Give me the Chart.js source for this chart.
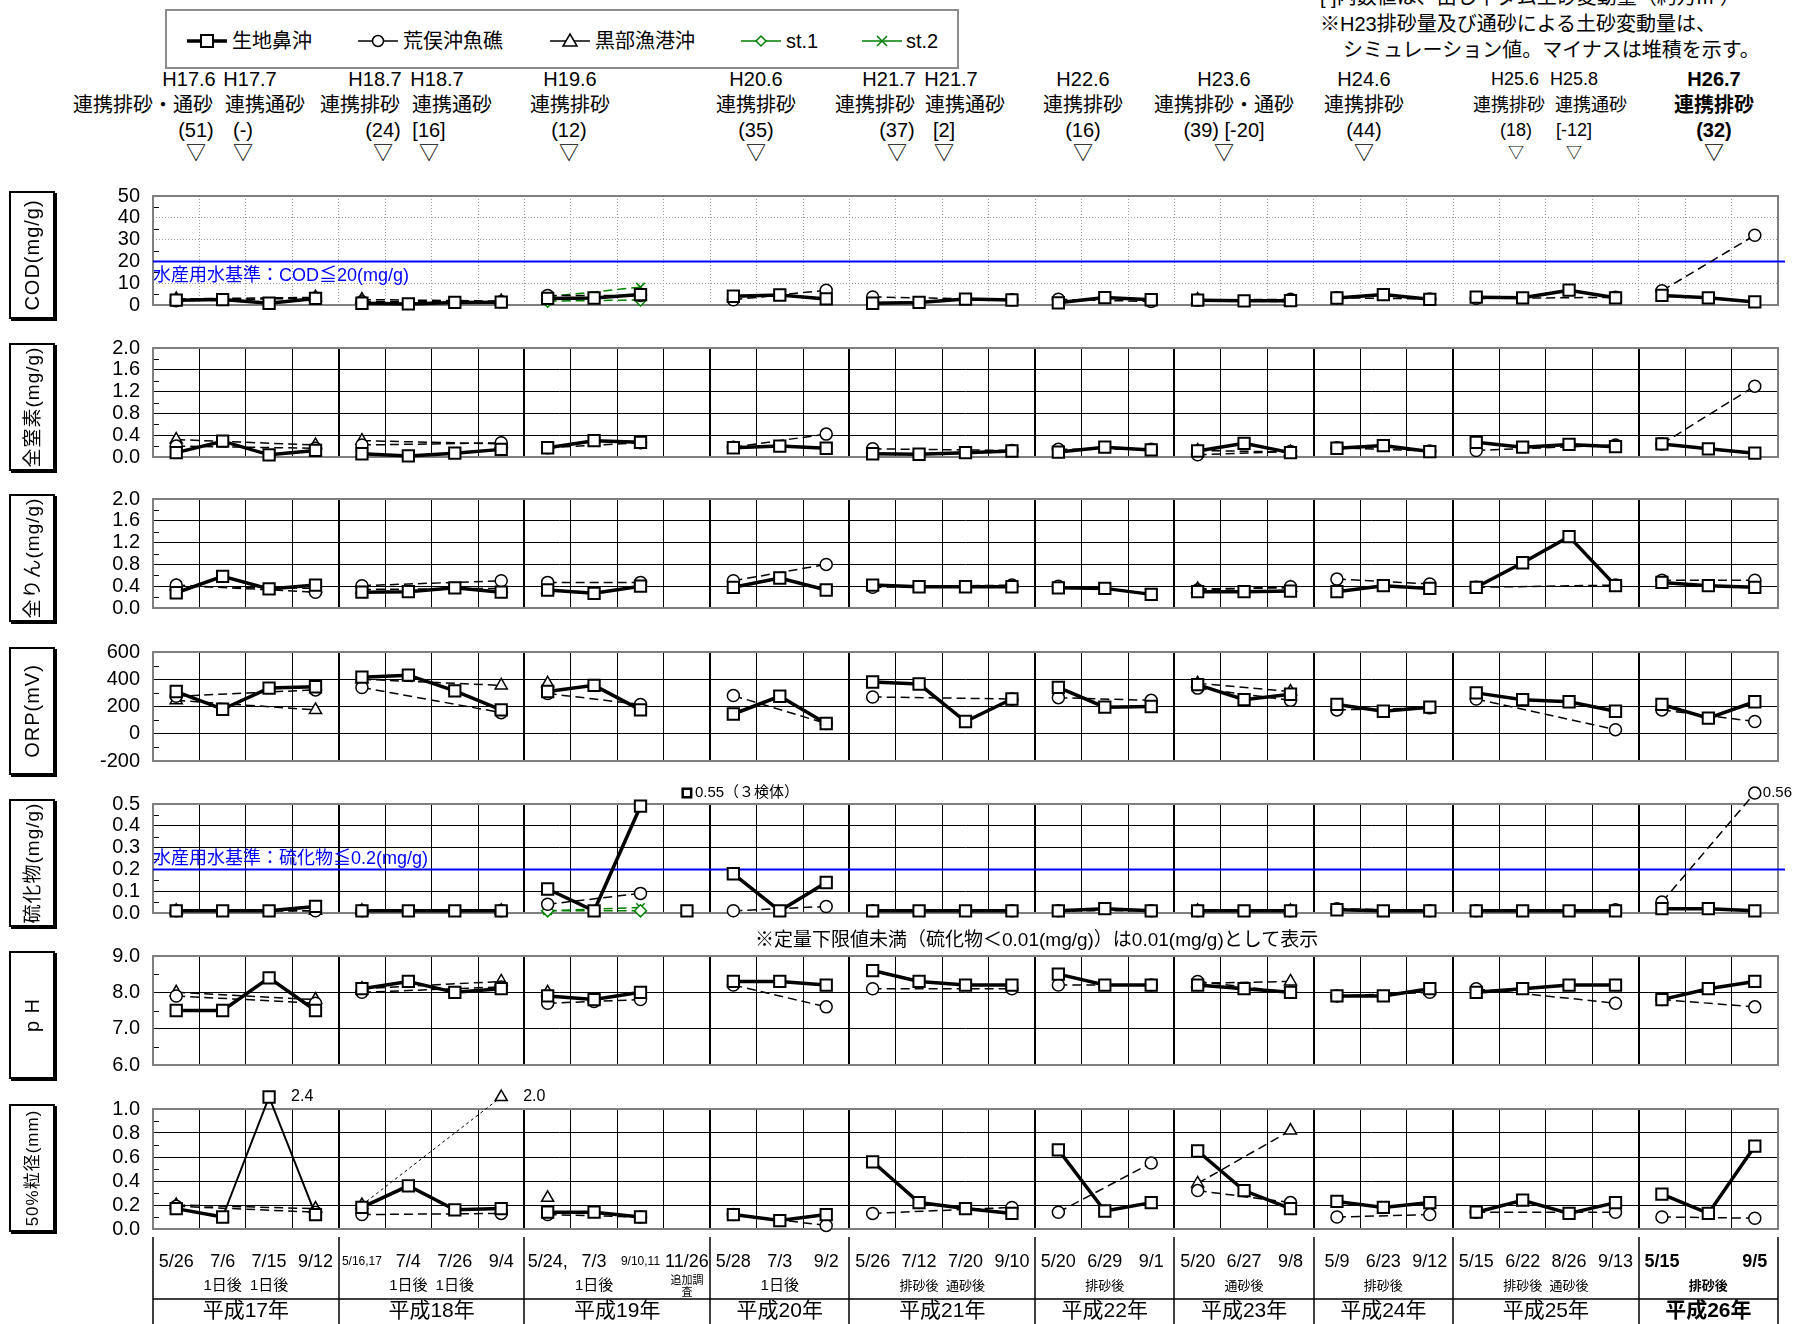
<!DOCTYPE html>
<html lang="ja">
<head>
<meta charset="utf-8">
<script src="https://cdn.jsdelivr.net/npm/chart.js@4.4.1/dist/chart.umd.min.js"></script>
<style>
  body { margin:0; width:1805px; height:1324px; overflow:hidden; position:relative; background:#fff;
         font-family:"Liberation Sans","Noto Sans CJK JP",sans-serif; color:#000; }
  .t { position:absolute; white-space:nowrap; line-height:1; transform:translate(-50%,-50%); }
  .l { position:absolute; white-space:nowrap; line-height:1; }
  canvas { position:absolute; left:0; }
  .ybox { position:absolute; left:9px; width:46px; box-sizing:border-box; border:2px solid #000; box-shadow:2px 2px 0 #000; background:#fff; }
  .ybox span { position:absolute; left:50%; top:50%; transform:translate(-50%,-50%) rotate(-90deg); white-space:nowrap; letter-spacing:1px; line-height:1; }
  #legend { position:absolute; left:165px; top:9px; width:794px; height:60px; box-sizing:border-box; border:2px solid #8c8c8c; }
</style>
</head>
<body>
<div id="legend"></div>
<script>
const _ = null;

// columns (survey dates)
const dates = ['5/26','7/6','7/15','9/12', '5/16,17','7/4','7/26','9/4', '5/24,','7/3','9/10,11','11/26',
  '5/28','7/3','9/2', '5/26','7/12','7/20','9/10', '5/20','6/29','9/1', '5/20','6/27','9/8',
  '5/9','6/23','9/12', '5/15','6/22','8/26','9/13', '5/15','','9/5'];
const subLabels = ['','1日後','1日後','', '','1日後','1日後','', '','1日後','','追加調査',
  '','1日後','', '','排砂後','通砂後','', '','排砂後','', '','通砂後','',
  '','排砂後','', '','排砂後','通砂後','', '','排砂後',''];
const yearCol = [17,17,17,17, 18,18,18,18, 19,19,19,19, 20,20,20, 21,21,21,21, 22,22,22, 23,23,23,
  24,24,24, 25,25,25,25, 26,26,26];
const lineGroup = [1,1,1,1, 2,2,2,2, 3,3,3,4, 5,5,5, 6,6,6,6, 7,7,7, 8,8,8, 9,9,9, 10,10,10,10, 11,11,11];

const names = ['生地鼻沖', '荒俣沖魚礁', '黒部漁港沖', 'st.1', 'st.2'];

// COD (mg/g)
const codSq = [2.2,2.5,0.8,3.0, 0.8,0.5,1.2,1.3, 3.0,3.2,4.8,_, 4.0,4.6,2.8, 0.8,1.2,2.7,2.3, 1.0,3.4,2.4, 2.2,1.9,2.0, 3.2,4.8,2.6, 3.6,3.3,6.8,3.3, 4.4,3.3,1.4];
const codCi = [2.0,_,_,3.2, 1.5,_,_,1.5, 4.4,_,4.4,_, 2.4,_,6.8, 3.7,_,_,2.4, 2.6,_,1.6, 2.3,_,2.6, 3.3,_,2.8, 3.0,_,_,3.5, 6.5,_,32];
const codTr = [2.8,_,_,3.5, 2.5,_,_,1.8, _,_,_,_, _,_,_, _,_,_,_, _,_,_, 2.5,_,1.5, _,_,_, _,_,_,_, _,_,_];
const codS1 = [_,_,_,_, _,_,_,_, 1.8,_,2.3,_, _,_,_, _,_,_,_, _,_,_, _,_,_, _,_,_, _,_,_,_, _,_,_];
const codS2 = [_,_,_,_, _,_,_,_, 3.8,_,8.2,_, _,_,_, _,_,_,_, _,_,_, _,_,_, _,_,_, _,_,_,_, _,_,_];

// 全窒素 (mg/g)
const tnSq = [0.08,0.29,0.04,0.12, 0.06,0.02,0.07,0.14, 0.17,0.30,0.27,_, 0.17,0.20,0.16, 0.06,0.05,0.08,0.11, 0.09,0.18,0.13, 0.11,0.25,0.08, 0.16,0.21,0.10, 0.27,0.18,0.23,0.19, 0.24,0.15,0.07];
const tnCi = [0.20,_,_,0.16, 0.22,_,_,0.26, 0.17,_,0.26,_, 0.18,_,0.42, 0.15,_,_,0.12, 0.14,_,0.14, 0.04,_,0.10, 0.17,_,0.11, 0.12,_,_,0.22, 0.24,_,1.30];
const tnTr = [0.32,_,_,0.22, 0.30,_,_,0.24, _,_,_,_, _,_,_, _,_,_,_, _,_,_, 0.12,_,0.09, _,_,_, _,_,_,_, _,_,_];

// 全りん (mg/g)
const tpSq = [0.28,0.58,0.35,0.42, 0.29,0.30,0.37,0.29, 0.33,0.27,0.40,_, 0.38,0.55,0.33, 0.42,0.39,0.39,0.39, 0.37,0.36,0.25, 0.30,0.30,0.31, 0.30,0.41,0.36, 0.38,0.83,1.31,0.41, 0.47,0.41,0.38];
const tpCi = [0.42,_,_,0.29, 0.41,_,_,0.50, 0.47,_,0.47,_, 0.50,_,0.80, 0.38,_,_,0.42, 0.40,_,_, 0.33,_,0.39, 0.53,_,0.44, 0.38,_,_,0.42, 0.51,_,0.51];
const tpTr = [0.40,_,_,0.36, 0.34,_,_,0.36, 0.34,_,_,_, _,_,_, _,_,_,_, _,_,_, 0.35,_,0.37, _,_,_, _,_,_,_, _,_,_];

// ORP (mV)
const orpSq = [310,180,335,345, 415,430,315,175, 310,355,175,_, 145,275,75, 380,365,90,255, 340,195,200, 360,250,290, 215,165,195, 300,250,235,165, 215,115,235];
const orpCi = [275,_,_,322, 340,_,_,155, 295,_,215,_, 280,_,75, 270,_,_,255, 265,_,245, 335,_,245, 175,_,190, 255,_,_,30, 175,_,90];
const orpTr = [245,_,_,175, 400,_,_,355, 370,_,_,_, _,_,_, _,_,_,_, _,_,_, 370,_,310, _,_,_, _,_,_,_, _,_,_];

// 硫化物 (mg/g)
const sulSq = [0.01,0.01,0.01,0.03, 0.01,0.01,0.01,0.01, 0.11,0.01,0.49,0.01, 0.18,0.01,0.14, 0.01,0.01,0.01,0.01, 0.01,0.02,0.01, 0.01,0.01,0.01, 0.015,0.01,0.01, 0.01,0.01,0.01,0.01, 0.02,0.02,0.01];
const sulCi = [0.01,_,_,0.01, 0.01,_,_,0.01, 0.04,_,0.09,_, 0.01,_,0.03, 0.01,_,_,0.01, 0.01,_,0.01, 0.01,_,0.01, 0.02,_,0.01, 0.01,_,_,0.015, 0.05,_,0.56];
const sulTr = [0.01,_,_,0.01, 0.01,_,_,0.01, _,_,_,_, _,_,_, _,_,_,_, _,_,_, 0.01,_,0.01, _,_,_, _,_,_,_, _,_,_];
const sulS1 = [_,_,_,_, _,_,_,_, 0.01,_,0.01,_, _,_,_, _,_,_,_, _,_,_, _,_,_, _,_,_, _,_,_,_, _,_,_];
const sulS2 = [_,_,_,_, _,_,_,_, 0.01,_,0.025,_, _,_,_, _,_,_,_, _,_,_, _,_,_, _,_,_, _,_,_,_, _,_,_];
const sulExtra = [_,_,_,_, _,_,_,_, _,_,_,0.55, _,_,_, _,_,_,_, _,_,_, _,_,_, _,_,_, _,_,_,_, _,_,_];

// pH
const phSq = [7.5,7.5,8.4,7.5, 8.1,8.3,8.0,8.1, 7.9,7.8,8.0,_, 8.3,8.3,8.2, 8.6,8.3,8.2,8.2, 8.5,8.2,8.2, 8.2,8.1,8.0, 7.9,7.9,8.1, 8.0,8.1,8.2,8.2, 7.8,8.1,8.3];
const phCi = [7.9,_,_,7.7, 8.0,_,_,8.15, 7.7,7.75,7.8,_, 8.2,_,7.6, 8.1,_,_,8.1, 8.2,_,8.2, 8.3,_,8.0, 7.9,_,8.0, 8.1,_,_,7.7, 7.8,_,7.6];
const phTr = [8.0,_,_,7.8, 8.1,_,_,8.3, 8.0,_,_,_, _,_,_, _,_,_,_, _,_,_, 8.25,_,8.3, _,_,_, _,_,_,_, _,_,_];

// 50%粒径 (mm)
const d50Sq = [0.17,0.10,2.4,0.12, 0.18,0.36,0.16,0.17, 0.14,0.14,0.10,_, 0.12,0.07,0.12, 0.56,0.22,0.17,0.13, 0.66,0.15,0.22, 0.65,0.32,0.17, 0.23,0.18,0.22, 0.14,0.24,0.13,0.22, 0.29,0.13,0.69];
const d50Ci = [0.19,_,_,0.14, 0.12,_,_,0.13, 0.12,_,0.10,_, 0.12,_,0.03, 0.13,_,_,0.18, 0.14,_,0.55, 0.32,_,0.22, 0.10,_,0.12, 0.14,_,_,0.14, 0.10,_,0.09];
const d50Tr = [0.20,_,_,0.17, 0.20,_,_,2.0, 0.26,_,_,_, _,_,_, _,_,_,_, _,_,_, 0.38,_,0.82, _,_,_, _,_,_,_, _,_,_];

const FONT = '"Liberation Sans", "Noto Sans CJK JP", sans-serif';
Chart.defaults.font.family = FONT;
Chart.defaults.color = '#000';

const styles = {
  sq: { label: names[0], point: 'rect', r: 8, pw: 2, color: '#000', width: 3.5, dash: [], overWidth: 2, overDash: [] },
  ci: { label: names[1], point: 'circle', r: 6, pw: 1.5, color: '#000', width: 1.5, dash: [9, 5], overWidth: 1.5, overDash: [9, 5] },
  tr: { label: names[2], point: 'triangle', r: 7, pw: 1.5, color: '#000', width: 1.5, dash: [9, 5], overWidth: 1, overDash: [3, 3] },
  s1: { label: names[3], point: 'rectRot', r: 6, pw: 1.5, color: '#008000', width: 1.5, dash: [9, 5], overWidth: 1.5, overDash: [9, 5] },
  s2: { label: names[4], point: 'crossRot', r: 6, pw: 1.5, color: '#008000', width: 1.5, dash: [9, 5], overWidth: 1.5, overDash: [9, 5] },
  sqx: { label: names[0], point: 'rect', r: 6, pw: 2.5, color: '#000', width: 0, dash: [], overWidth: 0, overDash: [], noLine: true }
};

const panels = [
  { id: 'cod', top: 195, min: 0, max: 50, step: 10, dec: 0, dotted: true, title: 'COD(mg/g)', tsize: 20,
    series: [['sq', codSq], ['ci', codCi], ['tr', codTr], ['s1', codS1], ['s2', codS2]],
    ref: { v: 20, text: '水産用水基準：COD≦20(mg/g)', dy: 15 } },
  { id: 'tn', top: 347, min: 0, max: 2, step: 0.4, dec: 1, title: '全窒素(mg/g)', tsize: 19,
    series: [['sq', tnSq], ['ci', tnCi], ['tr', tnTr]] },
  { id: 'tp', top: 498, min: 0, max: 2, step: 0.4, dec: 1, title: '全りん(mg/g)', tsize: 19,
    series: [['sq', tpSq], ['ci', tpCi], ['tr', tpTr]] },
  { id: 'orp', top: 651, min: -200, max: 600, step: 200, dec: 0, title: 'ORP(mV)', tsize: 20,
    series: [['sq', orpSq], ['ci', orpCi], ['tr', orpTr]] },
  { id: 'sul', top: 803, min: 0, max: 0.5, step: 0.1, dec: 1, title: '硫化物(mg/g)', tsize: 19,
    series: [['sq', sulSq], ['ci', sulCi], ['tr', sulTr], ['s1', sulS1], ['s2', sulS2], ['sqx', sulExtra, '（３検体）']],
    ref: { v: 0.2, text: '水産用水基準：硫化物≦0.2(mg/g)', dy: -10 }, overDec: 2, overDx: 8, overFont: '15px ' + FONT },
  { id: 'ph', top: 955, min: 6, max: 9, step: 1, dec: 1, title: 'p  H', tsize: 20,
    series: [['sq', phSq], ['ci', phCi], ['tr', phTr]] },
  { id: 'd50', top: 1108, min: 0, max: 1, step: 0.2, dec: 1, title: '50%粒径(mm)', tsize: 17,
    series: [['sq', d50Sq], ['ci', d50Ci], ['tr', d50Tr]], overDec: 1, overDx: 22, overFont: '16px ' + FONT, table: true }
];

const PLOT_H = 121, PAD_T = 24, PAD_B = 14;
const yearStarts = yearCol.map((y, i) => (i > 0 && y !== yearCol[i - 1]) ? i : -1).filter(i => i > 0);

function makeDataset(kind, values, p, note) {
  const st = styles[kind];
  const lift = p.max + (p.max - p.min) * 0.1;
  const isOver = i => values[i] != null && values[i] > p.max;
  const overSeg = c => isOver(c.p0DataIndex) || isOver(c.p1DataIndex);
  return {
    label: st.label,
    orig: values,
    overNote: note || '',
    data: values.map(v => v == null ? null : (v > p.max ? lift : v)),
    showLine: !st.noLine,
    borderColor: st.color,
    borderWidth: st.width,
    borderDash: st.dash,
    pointStyle: st.point,
    pointRadius: st.r,
    pointHoverRadius: st.r,
    pointBorderWidth: st.pw,
    pointBorderColor: st.color,
    pointBackgroundColor: '#fff',
    spanGaps: true,
    clip: false,
    tension: 0,
    segment: {
      borderColor: c => lineGroup[c.p0DataIndex] === lineGroup[c.p1DataIndex] ? st.color : 'rgba(0,0,0,0)',
      borderWidth: c => overSeg(c) ? st.overWidth : st.width,
      borderDash: c => overSeg(c) ? st.overDash : st.dash
    }
  };
}

function drawTable(chart) {
  const ctx = chart.ctx, xs = chart.scales.x, a = chart.chartArea;
  const edge = i => xs.getPixelForValue(i - 0.5);
  const top = a.bottom + 8, mid = a.bottom + 70, bot = chart.height;
  ctx.save();
  ctx.strokeStyle = '#000';
  ctx.lineWidth = 1.5;
  [0, ...yearStarts, yearCol.length].forEach(i => {
    const x = Math.round(edge(i));
    ctx.beginPath(); ctx.moveTo(x, top); ctx.lineTo(x, bot); ctx.stroke();
  });
  ctx.beginPath(); ctx.moveTo(edge(0), mid); ctx.lineTo(edge(yearCol.length), mid); ctx.stroke();
  ctx.fillStyle = '#000';
  ctx.textAlign = 'center';
  ctx.textBaseline = 'middle';
  dates.forEach((d, i) => {
    const bold = yearCol[i] === 26 ? 'bold ' : '';
    ctx.font = bold + (d.length > 5 ? '12px ' : '18px ') + FONT;
    ctx.fillText(d, xs.getPixelForValue(i), a.bottom + 33);
  });
  subLabels.forEach((s, i) => {
    if (!s) return;
    const x = xs.getPixelForValue(i);
    const bold = yearCol[i] === 26 ? 'bold ' : '';
    if (s === '追加調査') {
      ctx.font = '11px ' + FONT;
      ctx.fillText('追加調', x, a.bottom + 52);
      ctx.fillText('査', x, a.bottom + 64);
    } else {
      ctx.font = bold + (s === '1日後' ? '15px ' : '13px ') + FONT;
      ctx.fillText(s, x, a.bottom + 57);
    }
  });
  const yrs = [...new Set(yearCol)];
  yrs.forEach(y => {
    const first = yearCol.indexOf(y), last = yearCol.lastIndexOf(y);
    ctx.font = (y === 26 ? 'bold ' : '') + '21px ' + FONT;
    ctx.fillText('平成' + y + '年', xs.getPixelForValue((first + last) / 2), a.bottom + 82);
  });
  ctx.restore();
}

const panelDeco = {
  id: 'panelDeco',
  beforeDatasetsDraw(chart, args, o) {
    const ctx = chart.ctx, a = chart.chartArea, ys = chart.scales.y;
    ctx.save();
    // minor ticks
    ctx.strokeStyle = '#000';
    ctx.lineWidth = 1;
    for (let v = o.min + o.step / 2; v < o.max; v += o.step) {
      const y = Math.round(ys.getPixelForValue(v)) + 0.5;
      ctx.beginPath(); ctx.moveTo(a.left, y); ctx.lineTo(a.left + 6, y); ctx.stroke();
    }
    // frame
    ctx.strokeStyle = '#7f7f7f';
    ctx.lineWidth = 2;
    ctx.strokeRect(a.left, a.top, a.right - a.left, a.bottom - a.top);
    if (o.ref) {
      const y = ys.getPixelForValue(o.ref.v);
      ctx.strokeStyle = '#0000ff';
      ctx.lineWidth = 2;
      ctx.beginPath(); ctx.moveTo(a.left, y); ctx.lineTo(a.right + 7, y); ctx.stroke();
      ctx.fillStyle = '#0000ff';
      ctx.font = '18px ' + FONT;
      ctx.textBaseline = 'middle';
      ctx.fillText(o.ref.text, a.left, y + o.ref.dy);
    }
    ctx.restore();
  },
  afterDatasetsDraw(chart, args, o) {
    const ctx = chart.ctx;
    const whole = { left: 0, top: 0, right: chart.width, bottom: chart.height };
    ctx.save();
    chart.data.datasets.forEach((ds, di) => {
      const meta = chart.getDatasetMeta(di);
      ds.orig.forEach((v, i) => {
        if (v == null || v <= o.max) return;
        const pt = meta.data[i];
        // over-range marks sit above the plot, outside the chart area
        pt.draw(ctx, whole);
        ctx.fillStyle = '#000';
        ctx.textBaseline = 'middle';
        ctx.textAlign = 'left';
        ctx.font = o.overFont;
        ctx.fillText(v.toFixed(o.overDec) + ds.overNote, pt.x + o.overDx, pt.y);
      });
    });
    ctx.restore();
  },
  afterDraw(chart, args, o) {
    if (o.table) drawTable(chart);
  }
};

panels.forEach(p => {
  const padB = p.table ? 1324 - (p.top + PLOT_H) : PAD_B;
  const cv = document.createElement('canvas');
  cv.width = 1805;
  cv.height = PAD_T + PLOT_H + padB;
  cv.style.top = (p.top - PAD_T) + 'px';
  document.body.appendChild(cv);

  const gridColor = p.dotted ? '#9a9a9a' : '#000';
  new Chart(cv, {
    type: 'line',
    data: {
      labels: dates.map((d, i) => String(i)),
      datasets: p.series.map(s => makeDataset(s[0], s[1], p, s[2]))
    },
    options: {
      responsive: false,
      animation: false,
      events: [],
      layout: { padding: { top: PAD_T, bottom: padB, left: 0, right: 27 } },
      plugins: {
        legend: { display: false },
        tooltip: { enabled: false },
        panelDeco: { min: p.min, max: p.max, step: p.step, ref: p.ref, table: p.table,
          overDec: p.overDec || 1, overDx: p.overDx || 10, overFont: p.overFont || ('15px ' + FONT) }
      },
      scales: {
        x: {
          type: 'category',
          offset: true,
          grid: {
            offset: true,
            drawTicks: false,
            color: gridColor,
            lineWidth: c => (!p.dotted && yearStarts.includes(c.index)) ? 2 : 1
          },
          border: { display: false, dash: p.dotted ? [1, 2] : [] },
          ticks: { display: false },
          afterFit: s => { s.height = 0; }
        },
        y: {
          min: p.min,
          max: p.max,
          ticks: {
            stepSize: p.step,
            autoSkip: false,
            padding: 13,
            color: '#000',
            font: { size: 20, family: FONT },
            callback: v => Number(v).toFixed(p.dec)
          },
          grid: { color: gridColor, lineWidth: 1, drawTicks: false },
          border: { display: false, dash: p.dotted ? [1, 2] : [] },
          afterFit: s => { s.width = 153; }
        }
      }
    },
    plugins: [panelDeco]
  });

  // boxed y title
  const box = document.createElement('div');
  box.className = 'ybox';
  box.style.top = (p.top - 4) + 'px';
  box.style.height = (PLOT_H + 7) + 'px';
  const sp = document.createElement('span');
  sp.textContent = p.title;
  sp.style.fontSize = p.tsize + 'px';
  box.appendChild(sp);
  document.body.appendChild(box);
});

// header annotations (centre x, centre y, text, size, bold)
const R1 = 79, R2 = 105, R3 = 130, R4 = 153;
const header = [
  [189,R1,'H17.6'],[250,R1,'H17.7'],[375,R1,'H18.7'],[437,R1,'H18.7'],[570,R1,'H19.6'],[756,R1,'H20.6'],
  [889,R1,'H21.7'],[951,R1,'H21.7'],[1083,R1,'H22.6'],[1224,R1,'H23.6'],[1364,R1,'H24.6'],
  [1515,R1,'H25.6',18],[1574,R1,'H25.8',18],[1714,R1,'H26.7',20,true],
  [143,R2,'連携排砂・通砂'],[265,R2,'連携通砂'],[360,R2,'連携排砂'],[452,R2,'連携通砂'],[570,R2,'連携排砂'],
  [756,R2,'連携排砂'],[875,R2,'連携排砂'],[965,R2,'連携通砂'],[1083,R2,'連携排砂'],[1224,R2,'連携排砂・通砂'],
  [1364,R2,'連携排砂'],[1509,R2,'連携排砂',18],[1591,R2,'連携通砂',18],[1714,R2,'連携排砂',20,true],
  [196,R3,'(51)'],[243,R3,'(-)'],[383,R3,'(24)'],[429,R3,'[16]'],[569,R3,'(12)'],[756,R3,'(35)'],
  [897,R3,'(37)'],[944,R3,'[2]'],[1083,R3,'(16)'],[1224,R3,'(39) [-20]'],[1364,R3,'(44)'],
  [1516,R3,'(18)',18],[1574,R3,'[-12]',18],[1714,R3,'(32)',20,true],
  [196,R4,'▽'],[243,R4,'▽'],[383,R4,'▽'],[429,R4,'▽'],[569,R4,'▽'],[756,R4,'▽'],[897,R4,'▽'],[944,R4,'▽'],
  [1083,R4,'▽'],[1224,R4,'▽'],[1364,R4,'▽'],[1516,R4,'▽',16],[1574,R4,'▽',16],[1714,R4,'▽',20,true]
];
header.forEach(h => {
  const d = document.createElement('div');
  d.className = 't';
  d.textContent = h[2];
  d.style.left = h[0] + 'px';
  d.style.top = h[1] + 'px';
  d.style.fontSize = (h[3] || 20) + 'px';
  if (h[4]) d.style.fontWeight = 'bold';
  document.body.appendChild(d);
});

function addLeft(x, yc, text, size) {
  const d = document.createElement('div');
  d.className = 'l';
  d.textContent = text;
  d.style.left = x + 'px';
  d.style.top = (yc - size / 2) + 'px';
  d.style.fontSize = size + 'px';
  document.body.appendChild(d);
}
addLeft(1320, -3, '[ ]内数値は、出し平ダム土砂変動量（約万m³）', 20);
addLeft(1320, 24, '※H23排砂量及び通砂による土砂変動量は、', 20);
addLeft(1343, 50, 'シミュレーション値。マイナスは堆積を示す。', 20);
addLeft(755, 939, '※定量下限値未満（硫化物＜0.01(mg/g)）は0.01(mg/g)として表示', 19);

// legend
const legendSyms = {
  sq: '<line x1="0" y1="10" x2="40" y2="10" stroke="#000" stroke-width="3.5"/><rect x="14" y="4" width="12" height="12" fill="#fff" stroke="#000" stroke-width="2"/>',
  ci: '<line x1="0" y1="10" x2="40" y2="10" stroke="#000" stroke-width="1.5"/><circle cx="20" cy="10" r="5.5" fill="#fff" stroke="#000" stroke-width="1.5"/>',
  tr: '<line x1="0" y1="10" x2="40" y2="10" stroke="#000" stroke-width="1.5"/><polygon points="20,3 27,15 13,15" fill="#fff" stroke="#000" stroke-width="1.5"/>',
  s1: '<line x1="0" y1="10" x2="40" y2="10" stroke="#008000" stroke-width="1.5"/><polygon points="20,5 25,10 20,15 15,10" fill="#fff" stroke="#008000" stroke-width="1.5"/>',
  s2: '<line x1="0" y1="10" x2="40" y2="10" stroke="#008000" stroke-width="1.5"/><path d="M15,5 L25,15 M25,5 L15,15" stroke="#008000" stroke-width="1.5"/>'
};
const legendPos = [['sq', 187, 232], ['ci', 358, 403], ['tr', 550, 595], ['s1', 741, 786], ['s2', 862, 906]];
legendPos.forEach((l, i) => {
  const svg = document.createElementNS('http://www.w3.org/2000/svg', 'svg');
  svg.setAttribute('width', '40');
  svg.setAttribute('height', '20');
  svg.style.position = 'absolute';
  svg.style.left = l[1] + 'px';
  svg.style.top = '31px';
  svg.innerHTML = legendSyms[l[0]];
  document.body.appendChild(svg);
  addLeft(l[2], 41, names[i], 20);
});
</script>
</body>
</html>
